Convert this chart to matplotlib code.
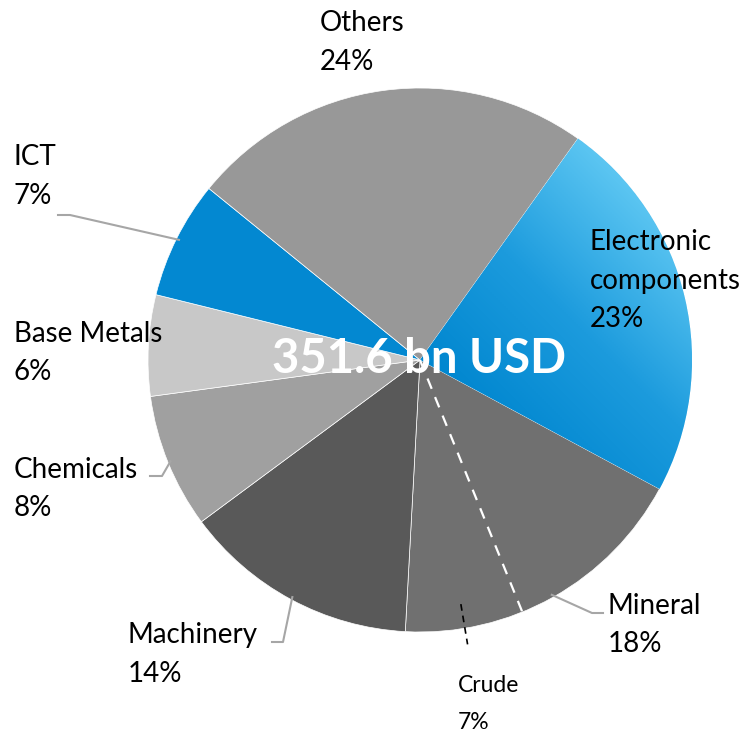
import numpy as np
import matplotlib.pyplot as plt
from matplotlib.colors import LinearSegmentedColormap

plt.rcParams['font.family'] = ['Lato', 'DejaVu Sans']

# shares of total (percent), clockwise starting from Electronic components
categories = ['Electronic\ncomponents', 'Mineral', 'Machinery', 'Chemicals',
              'Base Metals', 'ICT', 'Others']
shares = [23, 18, 14, 8, 6, 7, 24]
crude_share = 7          # part of Mineral
total_label = '351.6 bn USD'

colors = ['#0A8ED3', '#707070', '#595959', '#A0A0A0', '#C8C8C8', '#0388D1', '#989898']

W, H = 755, 735
CX, CY, R = 420, 360, 272      # pie centre / radius in pixels
START = 54.5                   # degrees, first wedge edge

def px(x, y):
    # pixel position (top-left origin) -> data coords (pie centre = 0,0, radius = 1)
    return (x - CX) / R, (CY - y) / R

fig = plt.figure(figsize=(W / 100, H / 100), dpi=100)
ax = fig.add_axes([0, 0, 1, 1])

wedges, _ = ax.pie(shares, colors=colors, startangle=START, counterclock=False,
                   radius=1, wedgeprops=dict(edgecolor='white', linewidth=0.5))

# gradient fill for the electronic components wedge
cmap = LinearSegmentedColormap.from_list('blu', ['#0086CF', '#1C9BDD', '#5CC6F2'])
gx, gy = np.meshgrid(np.linspace(-1.1, 1.1, 300), np.linspace(-1.1, 1.1, 300))
grad = (gx + gy) / np.sqrt(2)
im = ax.imshow(grad, extent=(-1.1, 1.1, -1.1, 1.1), origin='lower', cmap=cmap,
               vmin=0.0, vmax=1.0, zorder=wedges[0].get_zorder() + 0.1)
im.set_clip_path(wedges[0])

# angle helpers (math degrees)
cum = np.cumsum([0] + shares)
def ang(frac_pct):
    return np.deg2rad(START - frac_pct * 3.6)

# white dashed split for Crude inside Mineral
a = ang(cum[2] - crude_share)
ax.plot([0, np.cos(a)], [0, np.sin(a)], color='white', lw=1.6, ls=(0, (5, 4)), zorder=5)

# crude leader (black dashed)
a = ang(cum[2] - crude_share / 2)
ax.plot([0.91 * np.cos(a), 1.06 * np.cos(a)], [0.91 * np.sin(a), 1.06 * np.sin(a)],
        color='black', lw=1.2, ls=(0, (4, 3)), zorder=5)

# gray leader lines: label end in pixels, pie end from wedge mid angle
leaders = {1: [(603, 613), (592, 613)],
           2: [(272, 642), (283, 642)],
           3: [(150, 476), (162, 476)],
           5: [(58, 215), (70, 215)]}
for i, pts in leaders.items():
    a = ang((cum[i] + cum[i + 1]) / 2)
    xs = [px(*p)[0] for p in pts] + [0.99 * np.cos(a)]
    ys = [px(*p)[1] for p in pts] + [0.99 * np.sin(a)]
    ax.plot(xs, ys, color='#A6A6A6', lw=1.5, zorder=1)

# labels: left x and first baseline in pixels
label_pos = [(590, 250), (608, 614), (128, 643), (14, 478), (14, 342), (14, 165), (320, 31)]
for name, s, (x, y) in zip(categories, shares, label_pos):
    lines = name.split('\n') + [f'{s}%']
    for k, line in enumerate(lines):
        ax.text(*px(x, y + k * 38.5), line, fontsize=20, ha='left', va='baseline',
                color='black', zorder=6)

ax.text(*px(458, 692), 'Crude', fontsize=16.5, ha='left', va='baseline', zorder=6)
ax.text(*px(458, 729), f'{crude_share}%', fontsize=16.5, ha='left', va='baseline', zorder=6)

ax.text(*px(419, 373), total_label, fontsize=34, fontweight='bold', color='white',
        ha='center', va='baseline', zorder=7)

ax.set_xlim(-CX / R, (W - CX) / R)
ax.set_ylim((CY - H) / R, CY / R)
ax.set_aspect('equal')
ax.axis('off')

fig.savefig('out.png', dpi=100, facecolor='white')
